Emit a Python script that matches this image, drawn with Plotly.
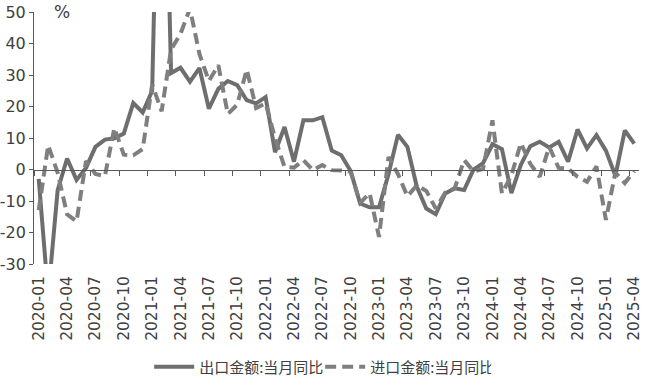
import plotly.graph_objects as go

months = [f"{y}-{m:02d}" for y in range(2020, 2026) for m in range(1, 13)][:64]

export_yoy = [-3, -40, -6.6, 3.5, -3.3, 0.5, 7.2, 9.5, 9.9, 11.4, 21.1, 18.1,
              25, 154.9, 30.6, 32.3, 27.9, 32.2, 19.3, 25.6, 28.1, 26.8, 22, 21,
              23, 5.5, 13.5, 2.5, 15.6, 15.6, 16.6, 6, 4.5, -0.5, -10.8, -12,
              -12, -1.5, 11, 7.2, -5.5, -12.4, -14.2, -7.6, -6, -6.5, 0, 2,
              8, 6.5, -7.5, 1.5, 7.4, 8.8, 7, 8.8, 2.5, 12.7, 6.7, 10.9,
              6, -2, 12.4, 8.2]

import_yoy = [-12.9, 7.7, -1, -14.2, -16.5, 2.7, -1.4, -2.1, 13.2, 4.7, 4.5, 6.5,
              27, 18.5, 38.1, 43.1, 51.1, 36.7, 28.1, 33.1, 17.6, 20.6, 31.7, 19.5,
              21, 10, 0.8, 0.6, 3, -0.2, 1.4, -0.2, -0.3, -0.7, -10.6, -7.5,
              -21.4, 4, -1.4, -8.5, -5, -6.8, -12.4, -7.3, -6, 3, -0.6, 0.2,
              15.6, -7.6, -1.9, 8.4, 1.8, -2.3, 7.2, 0.5, 0.3, -2.3, -3.9, 1,
              -16, -1, -4.3, -0.5]

series_names = ["出口金额:当月同比", "进口金额:当月同比"]
tick_labels = months[::3]
y_ticks = [-30, -20, -10, 0, 10, 20, 30, 40, 50]
y_min, y_max = y_ticks[0], y_ticks[-1]

axis_color = "#595959"
text_color = "#404040"
font_family = "DejaVu Sans"
cjk_font = "Noto Sans CJK SC"

fig = go.Figure()
fig.add_trace(go.Scatter(x=months, y=export_yoy, name=series_names[0], mode="lines",
                         line=dict(color="#6e6e6e", width=4), cliponaxis=True))
fig.add_trace(go.Scatter(x=months, y=import_yoy, name=series_names[1], mode="lines",
                         line=dict(color="#7f7f7f", width=4, dash="11px,6px"), cliponaxis=True))
# helper trace so the zero-crossing axis with its tick marks is drawn
fig.add_trace(go.Scatter(x=months, y=[None] * len(months), xaxis="x2", mode="lines",
                         showlegend=False, hoverinfo="skip"))

zero_pos = (0 - y_min) / (y_max - y_min)

fig.update_layout(
    width=651, height=392,
    margin=dict(l=34, r=12, t=12, b=128, autoexpand=False),
    plot_bgcolor="white", paper_bgcolor="white",
    font=dict(family=font_family, color=text_color, size=16),
    xaxis=dict(type="category", categoryorder="array", categoryarray=months,
               range=[-0.5, len(months) - 0.5], automargin=False,
               tickmode="array", tickvals=tick_labels, ticktext=tick_labels,
               tickangle=-90, ticks="", showline=False, showgrid=False, zeroline=False,
               ticklabelstandoff=8,
               tickfont=dict(family=font_family, size=15.5, color=text_color)),
    xaxis2=dict(type="category", categoryorder="array", categoryarray=months,
                overlaying="x", anchor="free", position=zero_pos, side="bottom",
                range=[-0.5, len(months) - 0.5],
                tickson="boundaries", dtick=3, ticks="outside", ticklen=5,
                tickcolor=axis_color, showticklabels=False,
                showline=True, linecolor=axis_color, linewidth=1, showgrid=False),
    yaxis=dict(range=[y_min, y_max], tickmode="array", tickvals=y_ticks,
               ticktext=[str(v) for v in y_ticks], showgrid=False, zeroline=False,
               showline=True, linecolor=axis_color, linewidth=1, ticks="outside",
               ticklen=4, tickcolor=axis_color, automargin=False,
               tickfont=dict(family=font_family, size=16, color=text_color)),
    legend=dict(orientation="h", x=0.473, xanchor="center", y=-0.409, yanchor="middle",
                font=dict(family=cjk_font, size=15, color=text_color),
                itemwidth=40, entrywidth=116, entrywidthmode="pixels", tracegroupgap=0),
    annotations=[dict(text="%", xref="paper", yref="paper", x=0.03, y=1.0,
                      xanchor="left", yanchor="middle", showarrow=False,
                      font=dict(family=font_family, size=17, color=text_color))],
)

fig.write_html("out.html", config={"displayModeBar": False},
               post_script="document.body.style.margin='0';")
